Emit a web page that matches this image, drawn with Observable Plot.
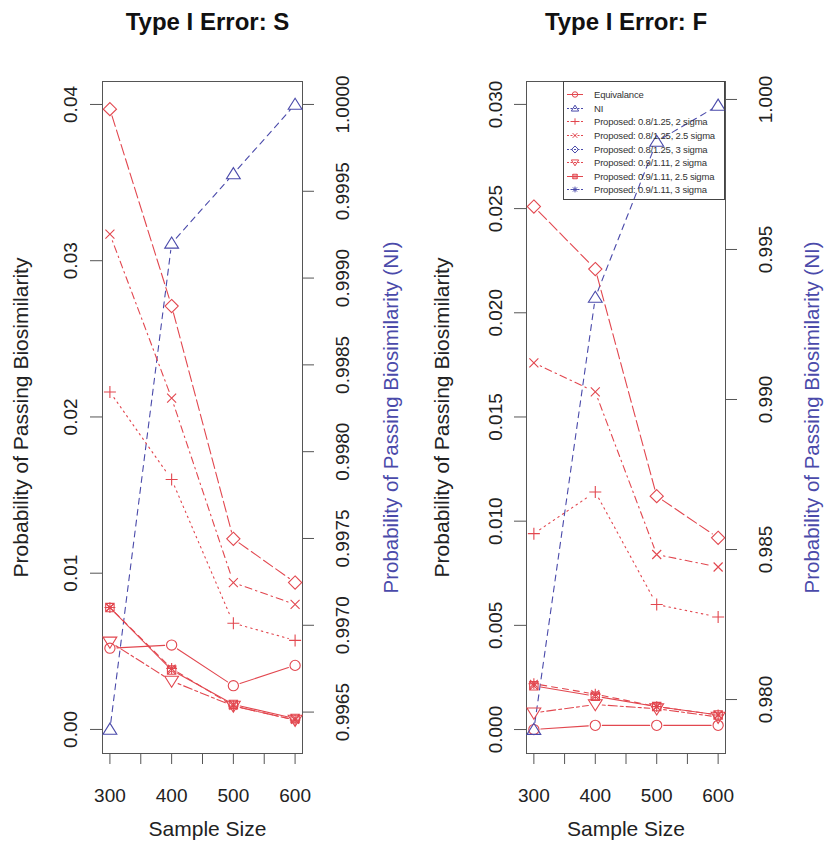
<!DOCTYPE html>
<html><head><meta charset="utf-8">
<script src="https://cdn.jsdelivr.net/npm/d3@7"></script>
<script src="https://cdn.jsdelivr.net/npm/@observablehq/plot@0.6"></script>
<style>
html,body{margin:0;padding:0;background:#fff;}
#wrap{position:relative;width:825px;height:844px;display:flex;font-family:"Liberation Sans",Arial,sans-serif;}
#legend{position:absolute;left:563px;top:81px;width:162px;height:119px;border:1px solid #444;box-sizing:border-box;padding-top:6px;}
.lrow{display:flex;align-items:center;height:13.6px;}
.lrow svg{flex:none;}
.lrow span{font-size:9.5px;color:#333;white-space:nowrap;letter-spacing:-0.2px;}
</style></head><body>
<div id="wrap"><div id="legend"></div></div>
<script>
// ---------- data ----------
const sampleSizes = [300, 400, 500, 600];
const xTicks = [300, 350, 400, 450, 500, 550, 600];
const xLabelTicks = [300, 400, 500, 600];
const seriesNames = [
  "Equivalance", "NI",
  "Proposed: 0.8/1.25, 2 sigma", "Proposed: 0.8/1.25, 2.5 sigma", "Proposed: 0.8/1.25, 3 sigma",
  "Proposed: 0.9/1.11, 2 sigma", "Proposed: 0.9/1.11, 2.5 sigma", "Proposed: 0.9/1.11, 3 sigma"
];
// Panel S
const equivS   = [0.0052, 0.0054, 0.0028, 0.0041];
const niS      = [0.99640, 0.99920, 0.99960, 1.0000];
const p125_2S  = [0.0216, 0.0160, 0.0068, 0.0057];
const p125_25S = [0.0317, 0.0212, 0.0094, 0.0080];
const p125_3S  = [0.0397, 0.0271, 0.0122, 0.0094];
const p111_2S  = [0.0056, 0.0031, 0.0015, 0.0006];
const p111_25S = [0.0078, 0.0038, 0.0016, 0.0007];
const p111_3S  = [0.0078, 0.0039, 0.0015, 0.0006];
// Panel F
const equivF   = [0.0000, 0.0002, 0.0002, 0.0002];
const niF      = [0.9790, 0.9934, 0.9986, 0.9998];
const p125_2F  = [0.0094, 0.0114, 0.0060, 0.0054];
const p125_25F = [0.0176, 0.0162, 0.0084, 0.0078];
const p125_3F  = [0.0251, 0.0221, 0.0112, 0.0092];
const p111_2F  = [0.0008, 0.0012, 0.0010, 0.0006];
const p111_25F = [0.0021, 0.0016, 0.0011, 0.0007];
const p111_3F  = [0.0022, 0.0017, 0.0011, 0.0007];
// Tick values
const yTicksS = [0, 0.01, 0.02, 0.03, 0.04];
const secTicksS = [0.9965, 0.9970, 0.9975, 0.9980, 0.9985, 0.9990, 0.9995, 1.0000];
const yTicksF = [0, 0.005, 0.010, 0.015, 0.020, 0.025, 0.030];
const secTicksF = [0.980, 0.985, 0.990, 0.995, 1.000];

// ---------- styles ----------
const RED = "#e2474f", BLUE = "#4a4aaa", AX = "#555";
const FONT = '"Liberation Sans", Arial, sans-serif';

function sym(fn) { return { draw(ctx, size) { fn(ctx, Math.sqrt(size / Math.PI)); } }; }
const symbols = {
  circle: sym((c, r) => { const k = r * 0.85; c.moveTo(k, 0); c.arc(0, 0, k, 0, 2 * Math.PI); }),
  triUp: sym((c, r) => { c.moveTo(0, -r * 1.05); c.lineTo(r * 1.15, r * 0.8); c.lineTo(-r * 1.15, r * 0.8); c.closePath(); }),
  triDown: sym((c, r) => { c.moveTo(0, r * 1.05); c.lineTo(r * 1.15, -r * 0.8); c.lineTo(-r * 1.15, -r * 0.8); c.closePath(); }),
  plus: sym((c, r) => { c.moveTo(-r, 0); c.lineTo(r, 0); c.moveTo(0, -r); c.lineTo(0, r); }),
  times: sym((c, r) => { const k = r * 0.75; c.moveTo(-k, -k); c.lineTo(k, k); c.moveTo(-k, k); c.lineTo(k, -k); }),
  diamond: sym((c, r) => { const k = r * 1.1; c.moveTo(0, -k); c.lineTo(k, 0); c.lineTo(0, k); c.lineTo(-k, 0); c.closePath(); }),
  boxtimes: sym((c, r) => { const k = r * 0.7; c.rect(-k, -k, 2 * k, 2 * k); c.moveTo(-k, -k); c.lineTo(k, k); c.moveTo(-k, k); c.lineTo(k, -k); }),
  asterisk: sym((c, r) => { const k = r * 0.9, j = r * 0.65; c.moveTo(-k, 0); c.lineTo(k, 0); c.moveTo(0, -k); c.lineTo(0, k); c.moveTo(-j, -j); c.lineTo(j, j); c.moveTo(-j, j); c.lineTo(j, -j); })
};
const seriesStyle = [
  { dash: null,          symbol: "circle",   plot: RED,  legend: RED },
  { dash: "6,5",         symbol: "triUp",    plot: BLUE, legend: BLUE },
  { dash: "1.5,4",       symbol: "plus",     plot: RED,  legend: RED },
  { dash: "1.5,4,7,4",   symbol: "times",    plot: RED,  legend: RED },
  { dash: "11,4",        symbol: "diamond",  plot: RED,  legend: BLUE },
  { dash: "3,3,9,3",     symbol: "triDown",  plot: RED,  legend: RED },
  { dash: null,          symbol: "boxtimes", plot: RED,  legend: RED },
  { dash: "6,5",         symbol: "asterisk", plot: RED,  legend: BLUE }
];

function makePanel(cfg) {
  const sec = d3.scaleLinear(cfg.niRange, cfg.primSpan);
  const series = [cfg.eq, cfg.ni.map(v => sec(v)), cfg.a, cfg.b, cfg.c, cfg.d, cfg.e, cfg.f];
  const marks = [
    Plot.frame({ stroke: AX }),
    Plot.axisX({ ticks: xTicks, tickSize: 11, tickFormat: () => "", stroke: AX, label: null }),
    Plot.axisY({ anchor: "left", ticks: cfg.yTicks, tickSize: 12, tickFormat: () => "", stroke: AX, label: null }),
    Plot.axisY({ anchor: "right", ticks: cfg.secTicks.map(t => sec(t)), tickSize: 11, tickFormat: () => "", stroke: AX, label: null }),
    Plot.text(xLabelTicks, { x: d => d, text: d => String(d), frameAnchor: "bottom", dy: 42, lineAnchor: "middle", fontSize: 19, fill: "#222" }),
    Plot.text(cfg.yTicks, { y: d => d, text: d => d3.format(cfg.yFmt)(d), frameAnchor: "left", dx: cfg.leftDx, rotate: -90, textAnchor: "middle", lineAnchor: "middle", fontSize: 19, fill: "#222" }),
    Plot.text(cfg.secTicks, { y: d => sec(d), text: d => d3.format(cfg.secFmt)(d), frameAnchor: "right", dx: 40, rotate: -90, textAnchor: "middle", lineAnchor: "middle", fontSize: 19, fill: "#222" }),
    Plot.text([cfg.title], { frameAnchor: "top", dy: -59.5, dx: cfg.titleDx, textAnchor: "middle", lineAnchor: "middle", fontSize: 24, fontWeight: "bold", fill: "#111" }),
    Plot.text(["Sample Size"], { frameAnchor: "bottom", dy: 76, dx: cfg.titleDx, textAnchor: "middle", lineAnchor: "middle", fontSize: 21, fill: "#222" }),
    Plot.text(["Probability of Passing Biosimilarity"], { frameAnchor: "left", dx: cfg.ylabDx, rotate: -90, textAnchor: "middle", lineAnchor: "middle", fontSize: 21, fill: "#222" }),
    Plot.text(["Probability of Passing Biosimilarity (NI)"], { frameAnchor: "right", dx: cfg.y2labDx, rotate: -90, textAnchor: "middle", lineAnchor: "middle", fontSize: 20.5, fill: BLUE })
  ];
  series.forEach((vals, i) => {
    const st = seriesStyle[i];
    const segs = sampleSizes.slice(1).map((n, j) => ({ x1: sampleSizes[j], y1: vals[j], x2: n, y2: vals[j + 1] }));
    marks.push(Plot.arrow(segs, { x1: "x1", y1: "y1", x2: "x2", y2: "y2", headLength: 0, insetStart: 7, insetEnd: 7, stroke: st.plot, strokeWidth: 1.1, strokeDasharray: st.dash || undefined }));
    const rows = sampleSizes.map((n, j) => ({ n, v: vals[j] }));
    marks.push(Plot.dot(rows, { x: "n", y: "v", symbol: symbols[st.symbol], r: 6, stroke: st.plot, fill: "none", strokeWidth: 1.1 }));
  });
  return Plot.plot({
    width: cfg.width, height: 844,
    marginLeft: cfg.ml, marginRight: cfg.mr, marginTop: 81, marginBottom: 91,
    x: { domain: [288, 612] },
    y: { domain: cfg.yDomain },
    style: { fontFamily: FONT, fontSize: "19px", background: "none", overflow: "visible", color: "#222" },
    marks
  });
}

const wrap = document.getElementById("wrap");
wrap.appendChild(makePanel({
  width: 413, ml: 102, mr: 111, yDomain: [-0.00154, 0.04147],
  niRange: [0.9964, 1.0], primSpan: [0, 0.04],
  eq: equivS, ni: niS, a: p125_2S, b: p125_25S, c: p125_3S, d: p111_2S, e: p111_25S, f: p111_3S,
  yTicks: yTicksS, yFmt: ".2f", secTicks: secTicksS, secFmt: ".4f",
  leftDx: -32, ylabDx: -81, y2labDx: 89, titleDx: 5, title: "Type I Error: S"
}));
wrap.appendChild(makePanel({
  width: 412, ml: 113, mr: 100, yDomain: [-0.00115, 0.0311],
  niRange: [0.979, 0.9998], primSpan: [0, 0.02995],
  eq: equivF, ni: niF, a: p125_2F, b: p125_25F, c: p125_3F, d: p111_2F, e: p111_25F, f: p111_3F,
  yTicks: yTicksF, yFmt: ".3f", secTicks: secTicksF, secFmt: ".3f",
  leftDx: -31, ylabDx: -84, y2labDx: 87, titleDx: 0, title: "Type I Error: F"
}));

// ---------- legend ----------
const legend = document.getElementById("legend");
seriesNames.forEach((name, i) => {
  const st = seriesStyle[i];
  const row = document.createElement("div");
  row.className = "lrow";
  const svg = d3.create("svg").attr("width", 30).attr("height", 13);
  svg.append("line").attr("x1", 3).attr("x2", 19).attr("y1", 6.5).attr("y2", 6.5)
    .attr("stroke", st.legend).attr("stroke-width", 1).attr("stroke-dasharray", st.dash ? "2,1.5" : null);
  const p = d3.path();
  symbols[st.symbol].draw(p, Math.PI * 3.2 * 3.2);
  svg.append("path").attr("d", p.toString()).attr("transform", "translate(11,6.5)")
    .attr("fill", "none").attr("stroke", st.legend).attr("stroke-width", 1);
  row.appendChild(svg.node());
  const span = document.createElement("span");
  span.textContent = (i === 2 ? " " : "") + name;
  row.appendChild(span);
  legend.appendChild(row);
});
</script>
</body></html>
